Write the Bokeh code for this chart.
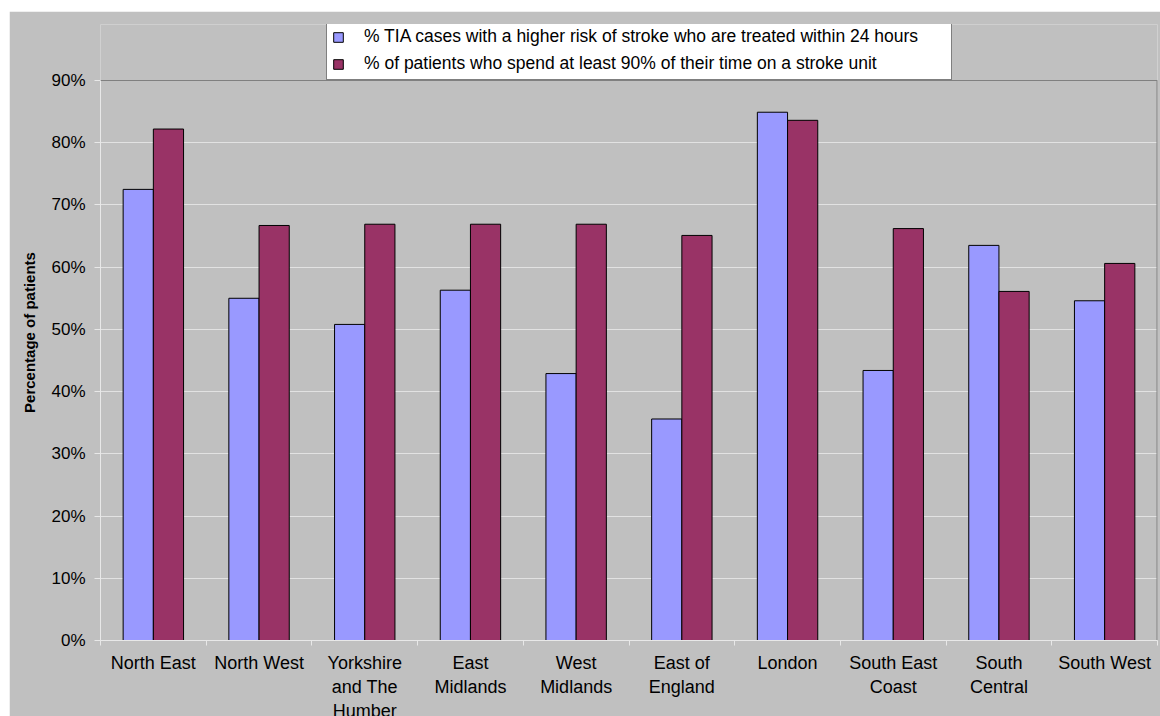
from bokeh.plotting import figure
from bokeh.models import (ColumnDataSource, FixedTicker, PrintfTickFormatter,
                          Legend, LegendItem, Range1d, Span)
from bokeh.transform import dodge
from bokeh.embed import file_html
from bokeh.resources import INLINE
import numpy as np

# ---- data ----
regions = ["North East", "North West", "Yorkshire\nand The\nHumber", "East\nMidlands",
           "West\nMidlands", "East of\nEngland", "London", "South East\nCoast",
           "South\nCentral", "South West"]
tia_24h = [72.5, 55.0, 50.8, 56.3, 42.9, 35.6, 84.9, 43.4, 63.5, 54.6]
stroke_unit_90 = [82.2, 66.7, 66.9, 66.9, 66.9, 65.1, 83.6, 66.2, 56.1, 60.6]
series_names = ["% TIA cases with a higher risk of stroke who are treated within 24 hours",
                "% of patients who spend at least 90% of their time on a stroke unit"]
y_ticks = [0, 10, 20, 30, 40, 50, 60, 70, 80, 90]

FONT = "Liberation Sans"
BLUE = "#9999FF"
MAROON = "#993366"
GREY = "#C0C0C0"
BORDER = "#808080"
LIGHT = "#E8E8E8"

n = len(regions)
centers = list(np.arange(n) + 0.5)
bounds = list(np.arange(n + 1).astype(float))
src = ColumnDataSource(dict(x=centers, tia=tia_24h, su=stroke_unit_90))

y_max = y_ticks[-1]
plot_h = 560          # height of the 0..90% plot area
legend_band = 56      # room above the plot area for the legend
frame_h = plot_h + legend_band
y_end = y_max * frame_h / plot_h

p = figure(frame_width=1057, frame_height=frame_h,
           x_range=Range1d(0, n), y_range=Range1d(0, y_end),
           output_backend="svg", toolbar_location=None,
           min_border_left=91, min_border_top=13, min_border_right=3,
           min_border_bottom=76, margin=(11, 0, 0, 9))

p.background_fill_color = GREY
p.border_fill_color = GREY
p.outline_line_color = None

bw = 1 / 3.5
r1 = p.vbar(x=dodge("x", -bw / 2, range=p.x_range), top="tia", width=bw, source=src,
            fill_color=BLUE, line_color="black", line_width=1)
r2 = p.vbar(x=dodge("x", bw / 2, range=p.x_range), top="su", width=bw, source=src,
            fill_color=MAROON, line_color="black", line_width=1)

# grid
p.xgrid.grid_line_color = None
p.ygrid.grid_line_color = "#E2E2E2"
p.ygrid.grid_line_width = 1
p.ygrid.ticker = FixedTicker(ticks=y_ticks[:-1])

# plot-area border: top line at 90% and right edge
p.add_layout(Span(location=y_max, dimension="width", line_color=BORDER, line_width=1))
p.segment(x0=n, y0=0, x1=n, y1=y_max, line_color=BORDER, line_width=2)

# y axis
ya = p.yaxis[0]
ya.bounds = (0.0, float(y_max))
ya.ticker = FixedTicker(ticks=y_ticks, minor_ticks=[])
ya.formatter = PrintfTickFormatter(format="%d%%")
ya.major_label_text_font = FONT
ya.major_label_text_font_size = "17px"
ya.major_label_text_color = "black"
ya.major_tick_out = 6
ya.major_tick_in = 0
ya.major_tick_line_color = LIGHT
ya.minor_tick_line_color = None
ya.axis_line_color = LIGHT
ya.major_label_standoff = 9
ya.axis_label = "Percentage of patients"
ya.axis_label_text_font = FONT
ya.axis_label_text_font_size = "15px"
ya.axis_label_text_font_style = "bold"
ya.axis_label_text_color = "black"
ya.axis_label_standoff = 10

# x axis
xa = p.xaxis[0]
xa.ticker = FixedTicker(ticks=centers, minor_ticks=bounds)
xa.major_label_overrides = {float(c): lab for c, lab in zip(centers, regions)}
xa.major_label_text_font = FONT
xa.major_label_text_font_size = "18px"
xa.major_label_text_color = "black"
xa.major_tick_line_color = None
xa.minor_tick_out = 5
xa.minor_tick_in = 0
xa.minor_tick_line_color = LIGHT
xa.axis_line_color = LIGHT
xa.major_label_standoff = 6

# legend
legend = Legend(items=[LegendItem(label=series_names[0], renderers=[r1]),
                       LegendItem(label=series_names[1], renderers=[r2])],
                location=(226, plot_h), orientation="vertical",
                label_text_font=FONT, label_text_font_size="17.5px",
                label_text_color="black",
                glyph_width=12, glyph_height=12, label_standoff=20,
                label_height=20, label_width=582, spacing=6, padding=5,
                margin=0,
                border_line_color="black", border_line_width=1,
                background_fill_color="white", background_fill_alpha=1)
p.add_layout(legend)

open("out.html", "w").write(file_html(p, INLINE))
